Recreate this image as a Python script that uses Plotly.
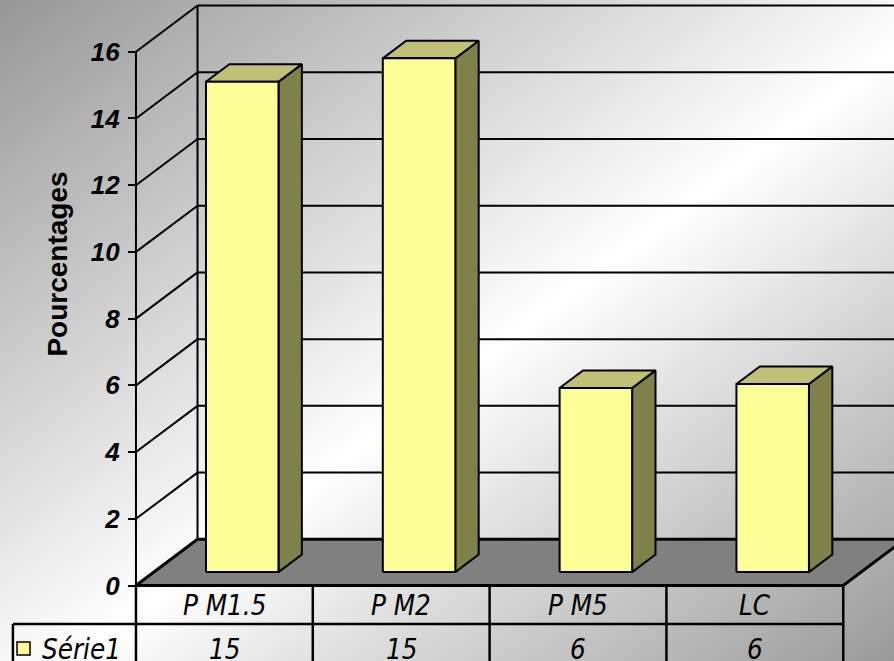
import base64
import plotly.graph_objects as go

# ---------------- data ----------------
categories = ["P M1.5", "P M2", "P M5", "LC"]
values = [14.7, 15.4, 5.52, 5.64]
series_name = "Série1"
y_ticks = [0, 2, 4, 6, 8, 10, 12, 14, 16]
y_title = "Pourcentages"

# ---------------- geometry / style ----------------
W_PX, H_PX = 894, 661
X_RANGE = [-0.769, 4.287]      # category units
Y_RANGE = [-2.263, 17.551]     # value units
DX, DY = 0.348, 1.385          # oblique depth of the 3-D box
BAR_W = 0.41                   # bar width (fraction of a category)
D0, D1 = 0.29, 0.67            # bar depth span (fraction of box depth)
YMAX = 16
ROW_H = 1.154                  # table row height (value units)
LEG_X = -0.696                 # left edge of legend cell
FRONT = "#FFFF99"
TOP = "#C0C076"
SIDE = "#80804A"
FLOOR = "#808080"

n = len(categories)
fig = go.Figure()


def poly(xs, ys, fill, lw=2):
    fig.add_trace(go.Scatter(
        x=list(xs) + [xs[0]], y=list(ys) + [ys[0]], mode="lines",
        fill="toself", fillcolor=fill,
        line=dict(color="black", width=lw),
        hoverinfo="skip", showlegend=False))


def lines(xs, ys, lw=2):
    fig.add_trace(go.Scatter(
        x=xs, y=ys, mode="lines", line=dict(color="black", width=lw),
        hoverinfo="skip", showlegend=False, connectgaps=False))


# floor
poly([0, n, n + DX, DX], [0, 0, DY, DY], FLOOR, lw=3)

# back wall grid, left wall diagonals, back wall frame
gx, gy = [], []
for v in y_ticks[1:]:
    gx += [DX, n + DX, None]
    gy += [v + DY, v + DY, None]
    gx += [0, DX, None]
    gy += [v, v + DY, None]
gx += [DX, DX, None]
gy += [DY, YMAX + DY, None]
lines(gx, gy, lw=2)

# front vertical axis line
lines([0, 0], [0, YMAX], lw=2)

# bars
ox, oy = (D1 - D0) * DX, (D1 - D0) * DY
for i, v in enumerate(values):
    xl = i + 0.5 - BAR_W / 2 + D0 * DX
    xr = xl + BAR_W
    yb = D0 * DY
    yt = yb + v
    poly([xr, xr + ox, xr + ox, xr], [yb, yb + oy, yt + oy, yt], SIDE)
    poly([xl, xr, xr + ox, xl + ox], [yt, yt, yt + oy, yt + oy], TOP)
    poly([xl, xr, xr, xl], [yb, yb, yt, yt], FRONT)

# data table lines
tx, ty = [], []
for k in range(n + 1):
    tx += [k, k, None]
    ty += [0, Y_RANGE[0] - 1, None]
tx += [LEG_X, n, None]
ty += [-ROW_H, -ROW_H, None]
tx += [LEG_X, LEG_X, None]
ty += [-ROW_H, Y_RANGE[0] - 1, None]
lines(tx, ty, lw=2.5)
lines([0, n], [0, 0], lw=3)

# legend key in table
ROW2_Y = -ROW_H * 1.637
fig.add_trace(go.Scatter(
    x=[LEG_X + 0.06], y=[ROW2_Y], mode="markers",
    marker=dict(symbol="square", size=13, color=FRONT,
                line=dict(color="black", width=1.5)),
    hoverinfo="skip", showlegend=False))

tfont = dict(family="DejaVu Sans Condensed", size=27.5, color="black", style="italic")
annotations = []
for i, (c, v) in enumerate(zip(categories, values)):
    annotations.append(dict(x=i + 0.5, y=-ROW_H / 2, text=c, showarrow=False,
                            xref="x", yref="y", xanchor="center", font=tfont))
    annotations.append(dict(x=i + 0.5, y=ROW2_Y, text=f"{v:.0f}", showarrow=False,
                            xref="x", yref="y", xanchor="center", font=tfont))
annotations.append(dict(x=LEG_X + 0.155, y=ROW2_Y, text=series_name, showarrow=False,
                        xref="x", yref="y", xanchor="left", font=tfont))
annotations.append(dict(x=58 / W_PX, y=9.65, xref="paper", yref="y", text=y_title,
                        textangle=-90, showarrow=False, xanchor="center",
                        yanchor="middle",
                        font=dict(family="Liberation Sans, Arial", size=28,
                                  color="black", weight="bold")))

svg = (
    f'<svg xmlns="http://www.w3.org/2000/svg" width="{W_PX}" height="{H_PX}" '
    f'preserveAspectRatio="none">'
    '<defs><linearGradient id="g" x1="0" y1="0" x2="1" y2="1">'
    '<stop offset="0" stop-color="#979797"/>'
    '<stop offset="0.54" stop-color="#ffffff"/>'
    '<stop offset="1" stop-color="#9a9a9a"/>'
    '</linearGradient></defs>'
    '<rect x="0" y="0" width="100%" height="100%" fill="url(#g)"/></svg>'
)
src = "data:image/svg+xml;base64," + base64.b64encode(svg.encode()).decode()

fig.update_layout(
    width=W_PX, height=H_PX,
    margin=dict(l=0, r=0, t=0, b=0),
    paper_bgcolor="white",
    plot_bgcolor="rgba(0,0,0,0)",
    showlegend=False,
    images=[dict(source=src, xref="paper", yref="paper", x=0, y=1,
                 sizex=1, sizey=1, xanchor="left", yanchor="top",
                 sizing="stretch", layer="below")],
    annotations=annotations,
    xaxis=dict(range=X_RANGE, visible=False, fixedrange=True),
    yaxis=dict(range=Y_RANGE, anchor="free", position=-X_RANGE[0] / (X_RANGE[1] - X_RANGE[0]),
               tickvals=y_ticks, ticks="outside", ticklen=8, tickwidth=2,
               tickcolor="black", showgrid=False, zeroline=False, showline=False,
               ticklabelstandoff=3,
               tickfont=dict(family="Liberation Sans, Arial", size=26, color="black",
                             weight="bold", style="italic"),
               fixedrange=True),
)

fig.write_html(
    "out.html",
    config={"displayModeBar": False},
    post_script="document.body.style.margin='0';document.body.style.padding='0';"
                "document.body.style.overflow='hidden';",
)
